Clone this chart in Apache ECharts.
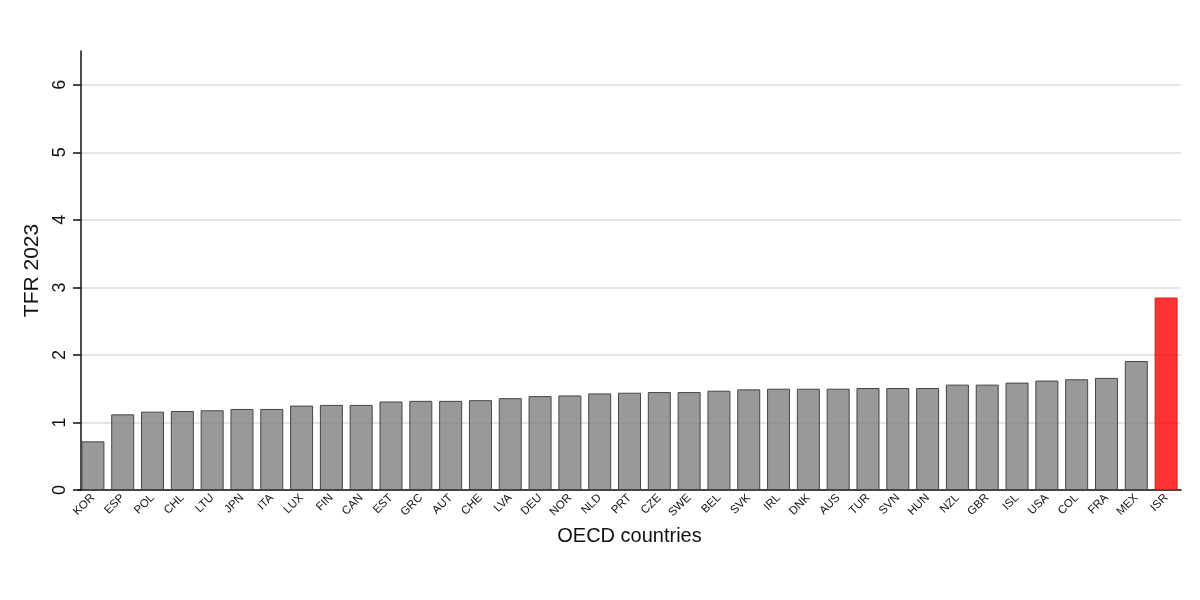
<!DOCTYPE html>
<html><head><meta charset="utf-8">
<script src="https://cdn.jsdelivr.net/npm/echarts@6/dist/echarts.min.js"></script>
<style>html,body{margin:0;padding:0;background:#fff}#c{width:1200px;height:600px}</style>
</head><body><div id="c"></div>
<script>
const countries = ["KOR","ESP","POL","CHL","LTU","JPN","ITA","LUX","FIN","CAN","EST","GRC","AUT","CHE","LVA","DEU","NOR","NLD","PRT","CZE","SWE","BEL","SVK","IRL","DNK","AUS","TUR","SVN","HUN","NZL","GBR","ISL","USA","COL","FRA","MEX","ISR"];
const tfr2023 = [0.72,1.12,1.16,1.17,1.18,1.20,1.20,1.25,1.26,1.26,1.31,1.32,1.32,1.33,1.36,1.39,1.40,1.43,1.44,1.45,1.45,1.47,1.49,1.50,1.50,1.50,1.51,1.51,1.51,1.56,1.56,1.59,1.62,1.64,1.66,1.91,2.85];
const highlight = "ISR";
const yTicks = [0,1,2,3,4,5,6];

const chart = echarts.init(document.getElementById('c'));
const font = "'Liberation Sans', Arial, sans-serif";
chart.setOption({
  animation:false,
  backgroundColor:'#fff',
  grid:{left:78, right:19, top:51, bottom:110, containLabel:false},
  xAxis:{
    type:'category', data:countries,
    name:'OECD countries', nameLocation:'middle', nameGap:36,
    nameTextStyle:{fontFamily:font, fontSize:20, color:'#111'},
    axisLine:{lineStyle:{color:'#111', width:1.5}},
    axisTick:{show:false},
    axisLabel:{rotate:45, interval:0, fontFamily:font, fontSize:11.5, color:'#111', margin:6}
  },
  yAxis:{
    type:'value', min:0, max:6.5, interval:1, offset:-3,
    name:'TFR 2023', nameLocation:'middle', nameGap:37,
    nameTextStyle:{fontFamily:font, fontSize:21, color:'#111'},
    axisLine:{show:true, lineStyle:{color:'#111', width:1.5}},
    axisTick:{show:true, length:8, customValues:yTicks, lineStyle:{color:'#111', width:1.5}},
    axisLabel:{rotate:90, fontFamily:font, fontSize:18, color:'#111', margin:12, customValues:yTicks},
    splitLine:{show:true, lineStyle:{color:'#dcdcdc', width:1.5}}
  },
  series:[{
    type:'bar', barWidth:23,
    data:countries.map((c,i)=>({value:tfr2023[i],
      itemStyle: c===highlight
        ? {color:'rgba(255,0,0,0.8)', borderColor:'rgba(220,20,20,0.9)', borderWidth:1}
        : {color:'rgba(128,128,128,0.8)', borderColor:'#454545', borderWidth:1}}))
  }]
});
</script></body></html>
